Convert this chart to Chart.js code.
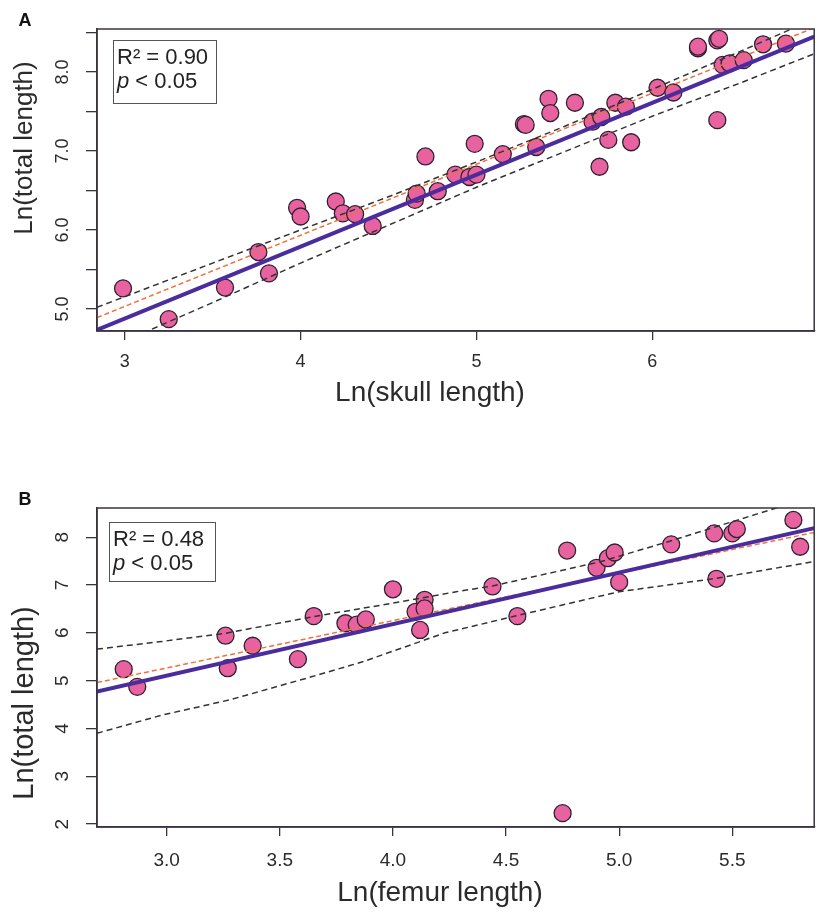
<!DOCTYPE html>
<html>
<head>
<meta charset="utf-8">
<script src="https://cdn.jsdelivr.net/npm/chart.js@4.4.1/dist/chart.umd.min.js"></script>
<style>
  html, body { margin: 0; padding: 0; background: #fff; }
  #wrap { position: relative; width: 824px; height: 913px; background: #fff; }
  canvas { position: absolute; left: 0; }
</style>
</head>
<body>
<div id="wrap">
  <canvas id="panelA" width="824" height="450" style="top:0"></canvas>
  <canvas id="panelB" width="824" height="463" style="top:450px"></canvas>
</div>
<script>
// ---- panel A: skull length vs total length ----
var skullX = [2.99, 3.25, 3.57, 3.76, 3.82, 3.98, 4.00, 4.20, 4.24, 4.31, 4.41, 4.65, 4.66, 4.71, 4.78,
              4.88, 4.96, 5.00, 4.99, 5.15, 5.27, 5.28, 5.34, 5.41, 5.42, 5.56, 5.66, 5.70, 5.71, 5.75,
              5.79, 5.85, 5.88, 6.03, 6.12, 6.26, 6.26, 6.37, 6.38, 6.37, 6.40, 6.44, 6.52, 6.63, 6.76];
var skullY = [5.26, 4.87, 5.27, 5.72, 5.45, 6.28, 6.17, 6.36, 6.21, 6.20, 6.05, 6.38, 6.46, 6.93, 6.49,
              6.70, 6.67, 6.70, 7.09, 6.96, 7.34, 7.33, 7.05, 7.66, 7.48, 7.61, 7.37, 6.80, 7.43, 7.14,
              7.61, 7.56, 7.11, 7.80, 7.74, 8.30, 8.32, 8.40, 8.42, 7.39, 8.09, 8.11, 8.15, 8.35, 8.36];
var fitAx = [2.842, 6.921];
var fitAy = [4.734, 8.447];
var orangeAx = [2.842, 6.921];
var orangeAy = [4.89, 8.56];
var ciAx = [2.842, 3.5, 4.0, 4.5, 5.0, 5.5, 6.0, 6.5, 6.921];
var ciUpperA = [5.02, 5.58, 6.00, 6.42, 6.86, 7.31, 7.78, 8.26, 8.67];
var ciLowerA = [4.44, 5.08, 5.58, 6.06, 6.54, 6.99, 7.44, 7.86, 8.23];
var xTicksA = [3, 4, 5, 6];
var xLabelsA = ['3', '4', '5', '6'];
var yTicksA = [5, 5.5, 6, 6.5, 7, 7.5, 8, 8.5];
var yLabelsA = ['5.0', '', '6.0', '', '7.0', '', '8.0', ''];

// ---- panel B: femur length vs total length ----
var femurX = [2.81, 2.87, 3.26, 3.27, 3.38, 3.58, 3.65, 3.79, 3.84, 3.88, 4.00, 4.10, 4.14, 4.14, 4.12,
              4.44, 4.55, 4.77, 4.75, 4.90, 4.95, 4.98, 5.00, 5.23, 5.42, 5.43, 5.50, 5.52, 5.77, 5.80];
var femurY = [5.24, 4.87, 5.94, 5.26, 5.73, 5.45, 6.35, 6.20, 6.17, 6.28, 6.91, 6.44, 6.69, 6.51, 6.06,
              6.97, 6.35, 7.72, 2.23, 7.36, 7.56, 7.68, 7.06, 7.85, 8.08, 7.13, 8.08, 8.17, 8.36, 7.80];
var fitBx = [2.692, 5.862];
var fitBy = [4.77, 8.19];
var orangeBx = [2.692, 5.862];
var orangeBy = [4.96, 8.10];
var ciUpperBx = [2.692, 2.98, 3.26, 3.65, 4.0, 4.28, 4.44, 4.92, 5.22, 5.68, 5.862];
var ciUpperBy = [5.66, 5.82, 5.99, 6.34, 6.62, 6.86, 6.98, 7.49, 7.91, 8.59, 8.86];
var ciLowerBx = [2.692, 2.98, 3.28, 3.64, 3.87, 4.23, 4.54, 5.0, 5.43, 5.862];
var ciLowerBy = [3.90, 4.28, 4.60, 5.08, 5.40, 6.00, 6.35, 6.86, 7.14, 7.49];
var xTicksB = [3.0, 3.5, 4.0, 4.5, 5.0, 5.5];
var xLabelsB = ['3.0', '3.5', '4.0', '4.5', '5.0', '5.5'];
var yTicksB = [2, 3, 4, 5, 6, 7, 8];
var yLabelsB = ['2', '3', '4', '5', '6', '7', '8'];

var FONT = "'Liberation Sans', Arial, sans-serif";
var INK = '#2b2b2b';

function pts(xs, ys) {
    return xs.map(function (x, i) { return { x: x, y: ys[i] }; });
}

function lineSet(xs, ys, color, width, dash) {
    return {
        type: 'line',
        data: pts(xs, ys),
        borderColor: color,
        borderWidth: width,
        borderDash: dash,
        pointRadius: 0,
        fill: false,
        tension: 0,
        clip: 0,
        order: 1
    };
}

// draws frame, rotated y labels, axis titles, panel letter and the R2 box
var decor = {
    id: 'decor',
    afterDraw: function (chart, args, o) {
        var ctx = chart.ctx, a = chart.chartArea, ys = chart.scales.y;
        ctx.save();
        ctx.strokeStyle = '#3a3340';
        ctx.lineWidth = 1.5;
        ctx.strokeRect(a.left, a.top, a.right - a.left, a.bottom - a.top);

        ctx.fillStyle = INK;
        ctx.textAlign = 'center';
        ctx.textBaseline = 'middle';
        ctx.font = o.tickSize + 'px ' + FONT;
        o.yTicks.forEach(function (v, i) {
            if (!o.yLabels[i]) return;
            ctx.save();
            ctx.translate(63, ys.getPixelForValue(v));
            ctx.rotate(-Math.PI / 2);
            ctx.fillText(o.yLabels[i], 0, 0);
            ctx.restore();
        });

        ctx.font = o.yTitleSize + 'px ' + FONT;
        ctx.save();
        ctx.translate(25, o.yTitleY);
        ctx.rotate(-Math.PI / 2);
        ctx.fillText('Ln(total length)', 0, 0);
        ctx.restore();

        ctx.font = o.xTitleSize + 'px ' + FONT;
        ctx.fillText(o.xTitle, o.xTitleX, o.xTitleY);

        ctx.font = 'bold 18px ' + FONT;
        ctx.fillStyle = '#111';
        ctx.fillText(o.letter, 25, o.letterY);

        // R2 box
        var b = o.box;
        ctx.fillStyle = '#fff';
        ctx.fillRect(b[0], b[1], b[2], b[3]);
        ctx.strokeStyle = '#555';
        ctx.lineWidth = 1;
        ctx.strokeRect(b[0] + 0.5, b[1] + 0.5, b[2], b[3]);
        ctx.fillStyle = '#222';
        ctx.textAlign = 'left';
        ctx.font = '22px ' + FONT;
        ctx.fillText('R\u00b2 = ' + o.r2, b[0] + 4, b[1] + 18);
        ctx.font = 'italic 22px ' + FONT;
        ctx.fillText('p', b[0] + 4, b[1] + 42);
        var pw = ctx.measureText('p ').width;
        ctx.font = '22px ' + FONT;
        ctx.fillText('< 0.05', b[0] + 4 + pw, b[1] + 42);
        ctx.restore();
    }
};

function makePanel(id, p) {
    var datasets = [
        lineSet(p.fitX, p.fitY, '#4a2c9c', 4, []),
        lineSet(p.orangeX, p.orangeY, '#f2703c', 1.5, [5, 3]),
        lineSet(p.upX, p.upY, '#333333', 1.5, [6, 4]),
        lineSet(p.loX, p.loY, '#333333', 1.5, [6, 4]),
        {
            type: 'scatter',
            data: pts(p.xs, p.ys),
            backgroundColor: '#e8629f',
            borderColor: '#2e2130',
            borderWidth: 1.3,
            pointRadius: 8.5,
            order: 5
        }
    ];
    return new Chart(document.getElementById(id), {
        type: 'scatter',
        data: { datasets: datasets },
        plugins: [decor],
        options: {
            responsive: false,
            animation: false,
            events: [],
            layout: { padding: { top: p.padTop, right: 3, left: 0, bottom: 0 } },
            plugins: {
                legend: { display: false },
                tooltip: { enabled: false },
                decor: p.decor
            },
            scales: {
                x: {
                    type: 'linear',
                    min: p.xMin, max: p.xMax,
                    afterBuildTicks: function (s) { s.ticks = p.xTicks.map(function (v) { return { value: v }; }); },
                    afterFit: function (s) { s.height = p.xAxisH; },
                    ticks: {
                        autoSkip: false, maxRotation: 0,
                        color: INK,
                        padding: p.xPad,
                        font: { family: FONT, size: p.decor.tickSize },
                        callback: function (v, i) { return p.xLabels[i]; }
                    },
                    grid: { drawOnChartArea: false, drawTicks: true, tickLength: 9, color: '#3a3340', lineWidth: 1.3 },
                    border: { display: true, color: '#3a3340', width: 1.5 }
                },
                y: {
                    type: 'linear',
                    min: p.yMin, max: p.yMax,
                    afterBuildTicks: function (s) { s.ticks = p.decor.yTicks.map(function (v) { return { value: v }; }); },
                    afterFit: function (s) { s.width = 97; },
                    ticks: { display: false },
                    grid: { drawOnChartArea: false, drawTicks: true, tickLength: 11, color: '#3a3340', lineWidth: 1.3 },
                    border: { display: true, color: '#3a3340', width: 1.5 }
                }
            }
        }
    });
}

makePanel('panelA', {
    xs: skullX, ys: skullY,
    fitX: fitAx, fitY: fitAy, orangeX: orangeAx, orangeY: orangeAy,
    upX: ciAx, upY: ciUpperA, loX: ciAx, loY: ciLowerA,
    xMin: 2.842, xMax: 6.921, yMin: 4.72, yMax: 8.544,
    xTicks: xTicksA, xLabels: xLabelsA,
    padTop: 29, xAxisH: 119, xPad: 11,
    decor: {
        yTicks: yTicksA, yLabels: yLabelsA, tickSize: 18,
        yTitleSize: 26, yTitleY: 148,
        xTitle: 'Ln(skull length)', xTitleSize: 28, xTitleX: 430, xTitleY: 393,
        letter: 'A', letterY: 21,
        box: [113, 40, 103, 63], r2: '0.90'
    }
});

makePanel('panelB', {
    xs: femurX, ys: femurY,
    fitX: fitBx, fitY: fitBy, orangeX: orangeBx, orangeY: orangeBy,
    upX: ciUpperBx, upY: ciUpperBy, loX: ciLowerBx, loY: ciLowerBy,
    xMin: 2.692, xMax: 5.862, yMin: 1.94, yMax: 8.61,
    xTicks: xTicksB, xLabels: xLabelsB,
    padTop: 58, xAxisH: 86, xPad: 13,
    decor: {
        yTicks: yTicksB, yLabels: yLabelsB, tickSize: 19,
        yTitleSize: 29, yTitleY: 253,
        xTitle: 'Ln(femur length)', xTitleSize: 28, xTitleX: 440, xTitleY: 443,
        letter: 'B', letterY: 50,
        box: [109, 72, 106, 59], r2: '0.48'
    }
});
</script>
</body>
</html>
